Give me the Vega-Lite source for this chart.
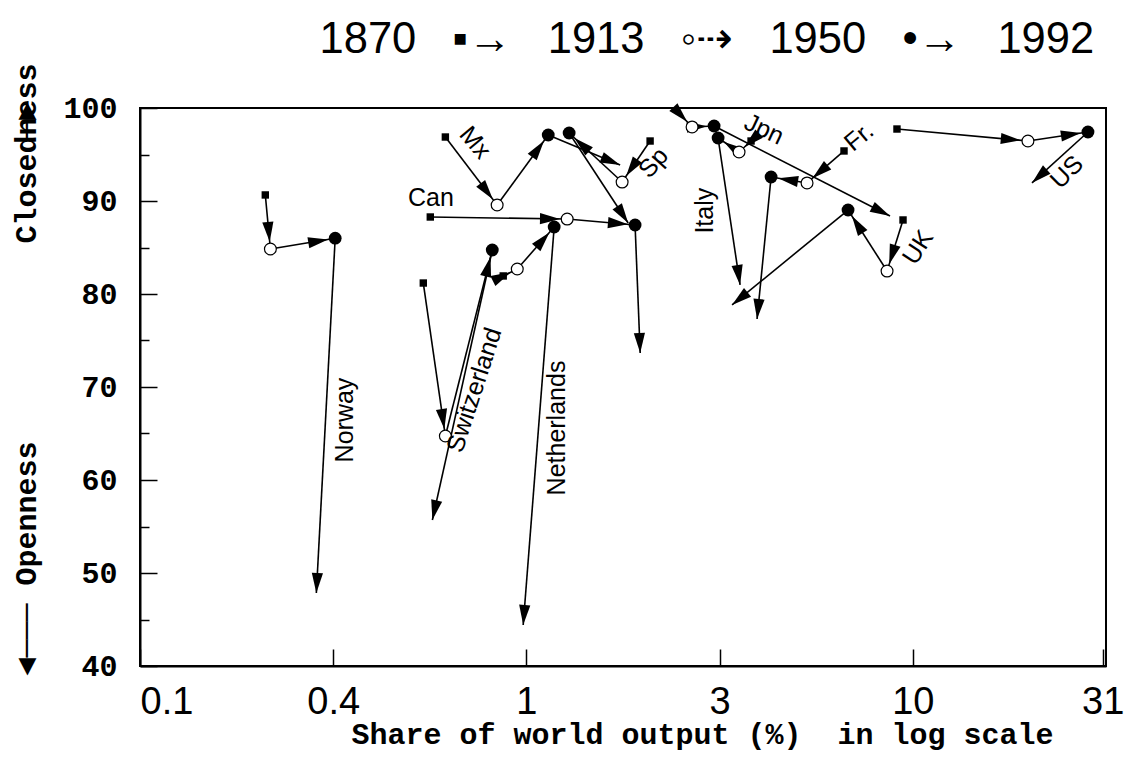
{
  "$schema": "https://vega.github.io/schema/vega-lite/v6.json",
  "width": 966,
  "height": 558,
  "autosize": {"type": "none"},
  "padding": {"left": 140, "top": 108, "right": 31, "bottom": 111},
  "background": "white",
  "config": {
    "view": {"stroke": "black", "strokeWidth": 2},
    "axis": {"domainColor": "black", "domainWidth": 2, "tickColor": "black", "tickWidth": 1.5, "grid": false, "labelColor": "black", "titleColor": "black"}
  },
  "datasets": {
    "points": [
      {"country": "Norway", "year": 1870, "share": 0.211, "closedness": 90.65},
      {"country": "Norway", "year": 1913, "share": 0.2175, "closedness": 84.84},
      {"country": "Norway", "year": 1950, "share": 0.32, "closedness": 86.0},
      {"country": "Norway", "year": 1992, "share": 0.286, "closedness": 47.85},
      {"country": "Mexico", "year": 1870, "share": 0.617, "closedness": 96.88},
      {"country": "Mexico", "year": 1913, "share": 0.84, "closedness": 89.57},
      {"country": "Mexico", "year": 1950, "share": 1.139, "closedness": 97.1},
      {"country": "Mexico", "year": 1992, "share": 1.748, "closedness": 93.87},
      {"country": "Spain", "year": 1870, "share": 2.09, "closedness": 96.45},
      {"country": "Spain", "year": 1913, "share": 1.769, "closedness": 92.04},
      {"country": "Spain", "year": 1950, "share": 1.29, "closedness": 97.31},
      {"country": "Spain", "year": 1992, "share": 1.834, "closedness": 87.63},
      {"country": "Canada", "year": 1870, "share": 0.564, "closedness": 88.28},
      {"country": "Canada", "year": 1913, "share": 1.275, "closedness": 88.06},
      {"country": "Canada", "year": 1950, "share": 1.911, "closedness": 87.42},
      {"country": "Canada", "year": 1992, "share": 1.97, "closedness": 73.66},
      {"country": "Netherlands", "year": 1870, "share": 0.871, "closedness": 81.94},
      {"country": "Netherlands", "year": 1913, "share": 0.947, "closedness": 82.69},
      {"country": "Netherlands", "year": 1950, "share": 1.18, "closedness": 87.2},
      {"country": "Netherlands", "year": 1992, "share": 0.981, "closedness": 44.41},
      {"country": "Switzerland", "year": 1870, "share": 0.541, "closedness": 81.18},
      {"country": "Switzerland", "year": 1913, "share": 0.617, "closedness": 64.73},
      {"country": "Switzerland", "year": 1950, "share": 0.816, "closedness": 84.73},
      {"country": "Switzerland", "year": 1992, "share": 0.571, "closedness": 55.7},
      {"country": "Japan", "year": 1870, "share": 2.313, "closedness": 100.8},
      {"country": "Japan", "year": 1913, "share": 2.684, "closedness": 97.96},
      {"country": "Japan", "year": 1950, "share": 3.06, "closedness": 98.06},
      {"country": "Japan", "year": 1992, "share": 8.73, "closedness": 88.39},
      {"country": "Italy", "year": 1870, "share": 3.814, "closedness": 96.45},
      {"country": "Italy", "year": 1913, "share": 3.551, "closedness": 95.27},
      {"country": "Italy", "year": 1950, "share": 3.134, "closedness": 96.77},
      {"country": "Italy", "year": 1992, "share": 3.573, "closedness": 80.97},
      {"country": "France", "year": 1870, "share": 6.637, "closedness": 95.38},
      {"country": "France", "year": 1913, "share": 5.325, "closedness": 91.94},
      {"country": "France", "year": 1950, "share": 4.298, "closedness": 92.58},
      {"country": "France", "year": 1992, "share": 3.953, "closedness": 77.31},
      {"country": "UK", "year": 1870, "share": 9.434, "closedness": 87.96},
      {"country": "UK", "year": 1913, "share": 8.578, "closedness": 82.47},
      {"country": "UK", "year": 1950, "share": 6.799, "closedness": 89.03},
      {"country": "UK", "year": 1992, "share": 3.406, "closedness": 78.82},
      {"country": "US", "year": 1870, "share": 9.1, "closedness": 97.74},
      {"country": "US", "year": 1913, "share": 19.86, "closedness": 96.45},
      {"country": "US", "year": 1950, "share": 28.4, "closedness": 97.42},
      {"country": "US", "year": 1992, "share": 20.34, "closedness": 91.94}
    ],
    "labels": [
      {"label": "Norway", "lx": 0.34, "ly": 66.45},
      {"label": "Switzerland", "lx": 0.733, "ly": 69.68},
      {"label": "Netherlands", "lx": 1.202, "ly": 65.59},
      {"label": "Can", "lx": 0.566, "ly": 90.29},
      {"label": "Mx", "lx": 0.737, "ly": 96.27},
      {"label": "Sp", "lx": 2.132, "ly": 94.12},
      {"label": "Italy", "lx": 2.9, "ly": 88.96},
      {"label": "Jpn", "lx": 4.122, "ly": 97.71},
      {"label": "Fr.", "lx": 7.26, "ly": 96.91},
      {"label": "UK", "lx": 10.31, "ly": 85.02},
      {"label": "US", "lx": 25.06, "ly": 93.12}
    ]
  },
  "resolve": {"axis": {"y": "independent", "x": "independent"}},
  "layer": [
    {
      "data": {"name": "points"},
      "transform": [
        {
          "window": [
            {"op": "lead", "field": "share", "as": "next_share"},
            {"op": "lead", "field": "closedness", "as": "next_closedness"}
          ],
          "groupby": ["country"],
          "sort": [{"field": "year", "order": "ascending"}]
        }
      ],
      "layer": [
        {
          "transform": [{"filter": "datum.next_share != null"}],
          "mark": {"type": "rule", "color": "black", "strokeWidth": 1.6, "clip": true},
          "encoding": {
            "x": {
              "field": "share",
              "type": "quantitative",
              "scale": {"type": "log", "domain": [0.1, 31.6228], "nice": false},
              "axis": {
                "orient": "bottom",
                "values": [0.1, 0.3162, 1, 3.162, 10, 31],
                "labelExpr": "datum.value < 0.2 ? '0.1' : datum.value < 0.5 ? '0.4' : datum.value < 2 ? '1' : datum.value < 5 ? '3' : datum.value < 20 ? '10' : '31'",
                "tickSize": -17,
                "labelPadding": 34,
                "labelFlush": 2,
                "labelFont": "Liberation Sans",
                "labelFontSize": 38,
                "labelBaseline": "top",
                "title": "Share of world output (%)\u00a0\u00a0in log scale",
                "titleFont": "Liberation Mono",
                "titleFontWeight": "bold",
                "titleFontSize": 30,
                "titleAlign": "center",
                "titleBaseline": "middle",
                "titleX": 562,
                "titleY": 68
              }
            },
            "y": {
              "field": "closedness",
              "type": "quantitative",
              "scale": {"domain": [40, 100], "nice": false, "zero": false},
              "axis": {
                "orient": "left",
                "values": [40, 50, 60, 70, 80, 90, 100],
                "tickSize": -17,
                "labelPadding": 40,
                "labelFont": "Liberation Mono",
                "labelFontWeight": "bold",
                "labelFontSize": 30,
                "title": "◄───\u00a0Openness\u00a0\u00a0\u00a0\u00a0\u00a0\u00a0\u00a0\u00a0\u00a0\u00a0\u00a0Closedness",
                "titleFont": "Liberation Mono",
                "titleFontWeight": "bold",
                "titleFontSize": 30,
                "titleAngle": -90,
                "titleAlign": "left",
                "titleBaseline": "middle",
                "titleX": -114,
                "titleY": 567
              }
            },
            "x2": {"field": "next_share"},
            "y2": {"field": "next_closedness"}
          }
        },
        {
          "transform": [{"filter": "datum.year < 1950"}],
          "mark": {
            "type": "point",
            "shape": "M0,0.36L-0.28,1.36L0.28,1.36Z",
            "filled": true,
            "color": "black",
            "opacity": 1,
            "size": 1600,
            "angle": {"expr": "atan2(scale('x', datum.next_share) - scale('x', datum.share), scale('y', datum.closedness) - scale('y', datum.next_closedness)) * 180 / PI"}
          },
          "encoding": {
            "x": {"field": "next_share", "type": "quantitative"},
            "y": {"field": "next_closedness", "type": "quantitative"}
          }
        },
        {
          "transform": [{"filter": "datum.year == 1950"}],
          "mark": {
            "type": "point",
            "shape": "M0,0L-0.28,1L0.28,1Z",
            "filled": true,
            "color": "black",
            "opacity": 1,
            "size": 1600,
            "angle": {"expr": "atan2(scale('x', datum.next_share) - scale('x', datum.share), scale('y', datum.closedness) - scale('y', datum.next_closedness)) * 180 / PI"}
          },
          "encoding": {
            "x": {"field": "next_share", "type": "quantitative"},
            "y": {"field": "next_closedness", "type": "quantitative"}
          }
        },
        {
          "transform": [{"filter": "datum.year == 1870"}],
          "mark": {"type": "point", "shape": "square", "filled": true, "color": "black", "opacity": 1, "size": 55, "clip": true},
          "encoding": {
            "x": {"field": "share", "type": "quantitative"},
            "y": {"field": "closedness", "type": "quantitative"}
          }
        },
        {
          "transform": [{"filter": "datum.year == 1913"}],
          "mark": {"type": "point", "shape": "circle", "filled": true, "fill": "white", "stroke": "black", "strokeWidth": 1.2, "opacity": 1, "size": 140},
          "encoding": {
            "x": {"field": "share", "type": "quantitative"},
            "y": {"field": "closedness", "type": "quantitative"}
          }
        },
        {
          "transform": [{"filter": "datum.year == 1950"}],
          "mark": {"type": "point", "shape": "circle", "filled": true, "color": "black", "opacity": 1, "size": 165},
          "encoding": {
            "x": {"field": "share", "type": "quantitative"},
            "y": {"field": "closedness", "type": "quantitative"}
          }
        }
      ]
    },
    {
      "data": {"name": "labels"},
      "encoding": {
        "x": {
          "field": "lx",
          "type": "quantitative",
          "axis": {
            "orient": "top",
            "ticks": false,
            "labels": false,
            "domain": false,
            "title": "1870\u00a0\u00a0\u00a0▪→\u00a0\u00a0\u00a01913\u00a0\u00a0\u00a0◦⇢\u00a0\u00a0\u00a01950\u00a0\u00a0\u00a0•→\u00a0\u00a0\u00a01992",
            "titleFont": "Liberation Sans",
            "titleFontSize": 43.5,
            "titleFontWeight": "normal",
            "titleAngle": 0,
            "titleAlign": "left",
            "titleBaseline": "alphabetic",
            "titleX": 179,
            "titleY": -56
          }
        },
        "y": {
          "field": "ly",
          "type": "quantitative",
          "axis": {
            "orient": "left",
            "values": [45, 55, 65, 75, 85, 95],
            "labels": false,
            "tickSize": -9,
            "domain": false,
            "title": "─►",
            "titleFont": "Liberation Mono",
            "titleFontWeight": "bold",
            "titleFontSize": 30,
            "titleAngle": -90,
            "titleAlign": "left",
            "titleBaseline": "middle",
            "titleX": -114,
            "titleY": 30
          }
        },
        "text": {"field": "label"}
      },
      "layer": [
        {
          "transform": [{"filter": "datum.label == 'Norway' || datum.label == 'Netherlands' || datum.label == 'Italy'"}],
          "mark": {"type": "text", "angle": -90, "font": "Liberation Sans", "fontSize": 25, "color": "black", "align": "center", "baseline": "middle"}
        },
        {
          "transform": [{"filter": "datum.label == 'Switzerland'"}],
          "mark": {"type": "text", "angle": -72, "font": "Liberation Sans", "fontSize": 25, "color": "black", "align": "center", "baseline": "middle"}
        },
        {
          "transform": [{"filter": "datum.label == 'Can'"}],
          "mark": {"type": "text", "angle": 0, "font": "Liberation Sans", "fontSize": 25, "color": "black", "align": "center", "baseline": "middle"}
        },
        {
          "transform": [{"filter": "datum.label == 'Mx'"}],
          "mark": {"type": "text", "angle": 50, "font": "Liberation Sans", "fontSize": 25, "color": "black", "align": "center", "baseline": "middle"}
        },
        {
          "transform": [{"filter": "datum.label == 'Sp'"}],
          "mark": {"type": "text", "angle": -48, "font": "Liberation Sans", "fontSize": 25, "color": "black", "align": "center", "baseline": "middle"}
        },
        {
          "transform": [{"filter": "datum.label == 'Jpn'"}],
          "mark": {"type": "text", "angle": 25, "font": "Liberation Sans", "fontSize": 25, "color": "black", "align": "center", "baseline": "middle"}
        },
        {
          "transform": [{"filter": "datum.label == 'Fr.'"}],
          "mark": {"type": "text", "angle": -40, "font": "Liberation Sans", "fontSize": 25, "color": "black", "align": "center", "baseline": "middle"}
        },
        {
          "transform": [{"filter": "datum.label == 'UK'"}],
          "mark": {"type": "text", "angle": -57, "font": "Liberation Sans", "fontSize": 25, "color": "black", "align": "center", "baseline": "middle"}
        },
        {
          "transform": [{"filter": "datum.label == 'US'"}],
          "mark": {"type": "text", "angle": -45, "font": "Liberation Sans", "fontSize": 25, "color": "black", "align": "center", "baseline": "middle"}
        }
      ]
    }
  ]
}
